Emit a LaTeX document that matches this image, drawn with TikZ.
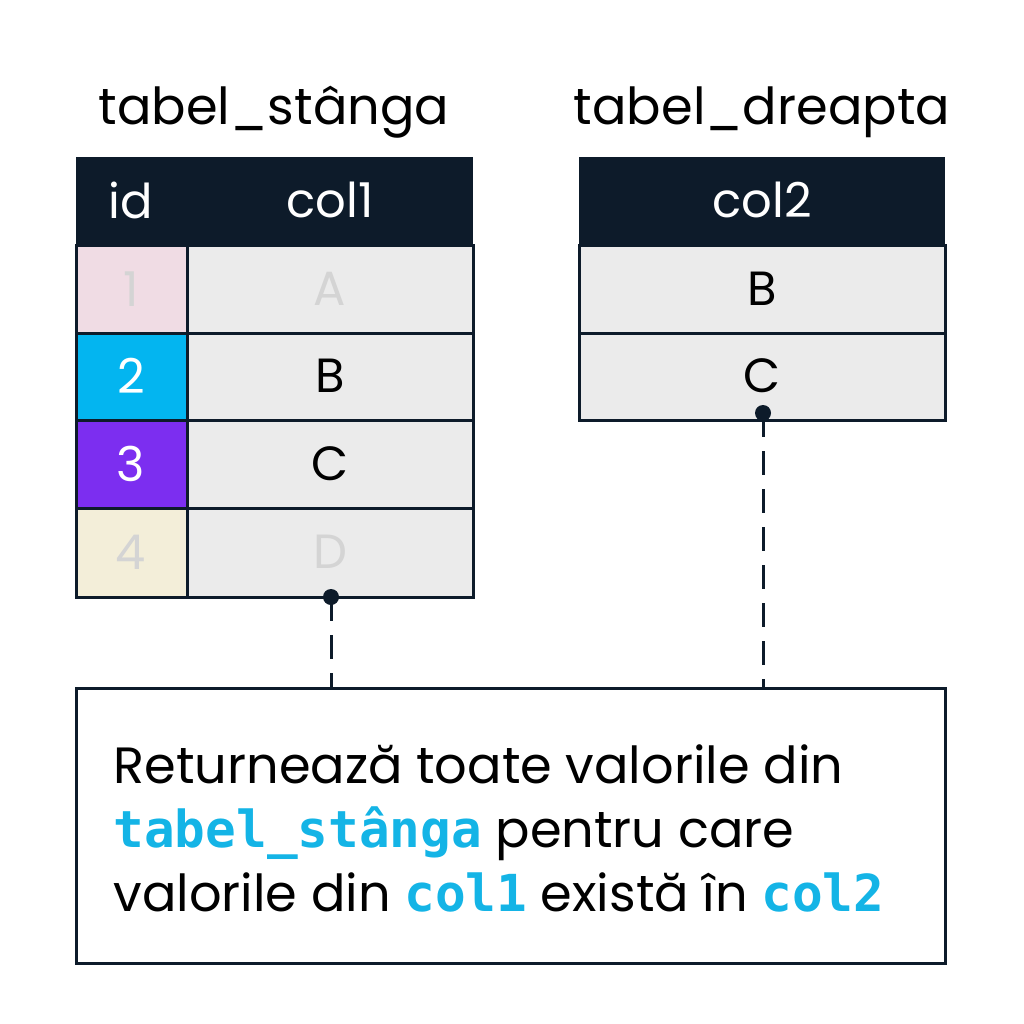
\documentclass[tikz,border=0pt]{standalone}
\usepackage{fontspec}
\setmainfont{Poppins}
\setmonofont{DejaVu Sans Mono}
\begin{document}
\begin{tikzpicture}[x=1pt,y=-1pt,
  cell/.style={fill={rgb,255:red,235;green,235;blue,235},draw={rgb,255:red,13;green,27;blue,42},line width=3pt},
  txt/.style={font=\fontsize{48}{54}\selectfont},
  ht/.style={txt,text=white},
  ft/.style={txt,text={rgb,255:red,212;green,212;blue,212}},
  dashln/.style={draw={rgb,255:red,13;green,27;blue,42},line width=3pt,dash pattern=on 24pt off 14pt}]
\useasboundingbox (0,0) rectangle (1024,1024);
\definecolor{nav}{RGB}{13,27,42}
% titles
\node[font=\fontsize{51}{56}\selectfont] (tl) at (274,112) {tabel\_stânga};
\node[font=\fontsize{51}{56}\selectfont] (tr) at (762,112) {tabel\_dreapta};
% left table
\fill[nav] (76,157) rectangle (473,245);
\node[ht] (hid) at (131,200) {id};
\node[ht] (hc1) at (330,200) {col1};
\path[cell] (187,245) rectangle (473,333);
\path[cell] (187,333) rectangle (473,420);
\path[cell] (187,420) rectangle (473,508);
\path[cell] (187,508) rectangle (473,597);
\fill[fill={rgb,255:red,240;green,220;blue,228}] (77,246) rectangle (186,332);
\fill[fill={rgb,255:red,3;green,181;blue,240}] (77,334) rectangle (186,419);
\fill[fill={rgb,255:red,124;green,46;blue,240}] (77,421) rectangle (186,507);
\fill[fill={rgb,255:red,243;green,238;blue,217}] (77,509) rectangle (186,596);
\draw[nav,line width=3pt] (76,245) rectangle (473,597);
\draw[nav,line width=3pt] (76,333)--(187,333) (76,420)--(187,420) (76,508)--(187,508);
\node[ft] (i1) at (131,289) {1};
\node[ft] (a) at (330,289) {A};
\node[ht] (i2) at (131,376) {2};
\node[txt] (b) at (330,376) {B};
\node[ht] (i3) at (131,464) {3};
\node[txt] (c) at (330,464) {C};
\node[ft] (i4) at (131,552) {4};
\node[ft] (d) at (330,552) {D};
% right table
\fill[nav] (579,157) rectangle (945,245);
\node[ht] (hc2) at (762,200) {col2};
\path[cell] (579,245) rectangle (945,333);
\path[cell] (579,333) rectangle (945,420);
\node[txt] (rb) at (762,289) {B};
\node[txt] (rc) at (762,376) {C};
% dots and dashes
\coordinate (p1) at (331,597);
\coordinate (p2) at (763,413);
\fill[nav] (p1) circle (8);
\fill[nav] (p2) circle (8);
% box
\node[draw=nav,line width=3pt,minimum width=869pt,minimum height=275pt,inner sep=0pt] (box) at (510.5,825.5) {};
\draw[dashln] (p1) -- (p1 |- box.north);
\draw[dashln] (p2) -- (p2 |- box.north);
\node[anchor=west,align=left,font=\fontsize{51}{64}\selectfont] (t) at (110,828)
{Returnează toate valorile din\\
{\ttfamily\bfseries\color[RGB]{20,180,230}tabel\_stânga} pentru care\\
valorile din {\ttfamily\bfseries\color[RGB]{20,180,230}col1} există în {\ttfamily\bfseries\color[RGB]{20,180,230}col2}};
\end{tikzpicture}
\end{document}
